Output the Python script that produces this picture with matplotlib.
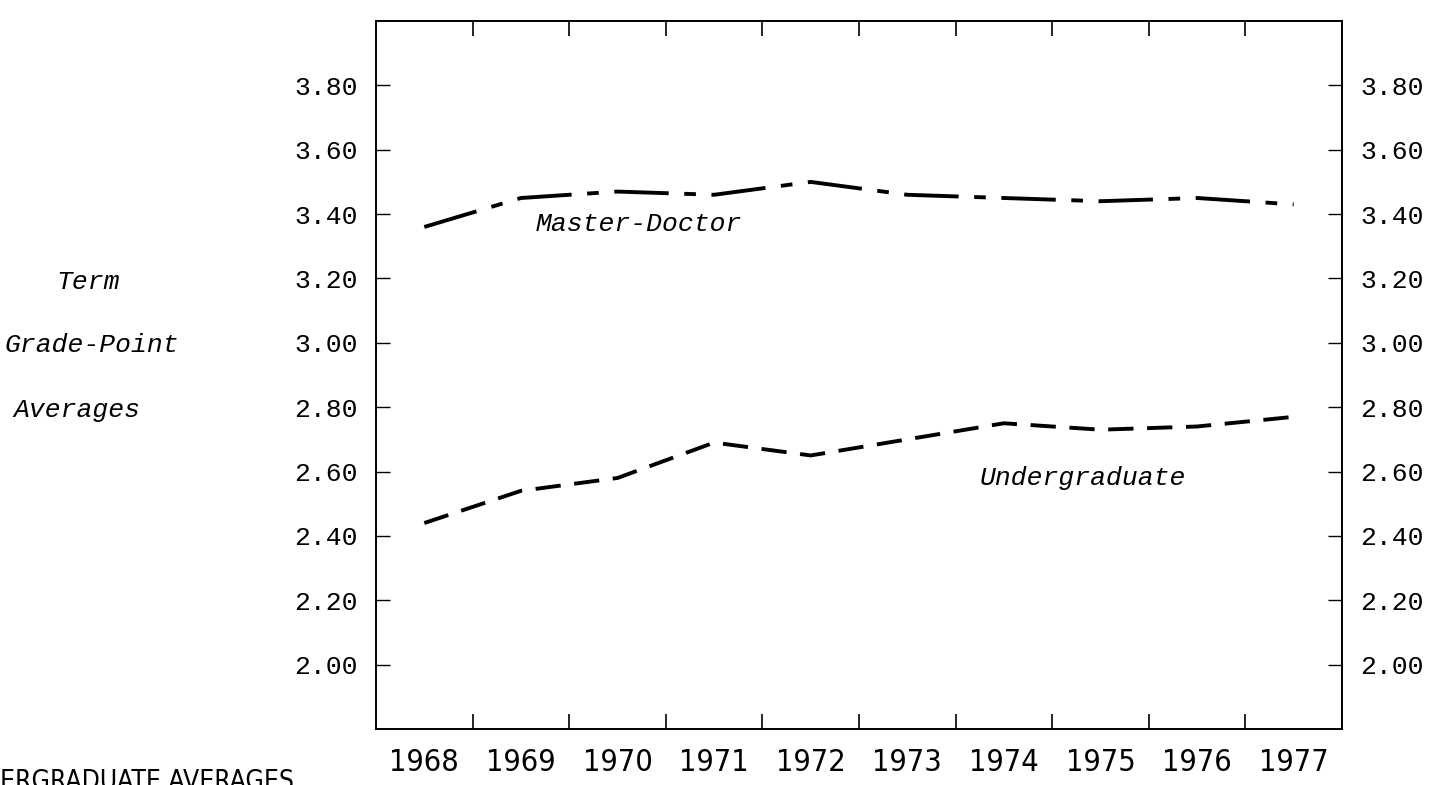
import numpy as np
import matplotlib.pyplot as plt
from matplotlib.ticker import FixedLocator

# Term grade-point averages
YEARS = [1968, 1969, 1970, 1971, 1972, 1973, 1974, 1975, 1976, 1977]
MASTER_DOCTOR = [3.36, 3.45, 3.47, 3.46, 3.50, 3.46, 3.45, 3.44, 3.45, 3.43]
UNDERGRADUATE = [2.44, 2.54, 2.58, 2.69, 2.65, 2.70, 2.75, 2.73, 2.74, 2.77]
Y_TICKS = [2.00, 2.20, 2.40, 2.60, 2.80, 3.00, 3.20, 3.40, 3.60, 3.80]

MONO = 'Liberation Mono'
NARROW = 'DejaVu Sans'

W, H = 1452, 785


def main():
    fig = plt.figure(figsize=(W / 100, H / 100), dpi=100)
    ax = fig.add_axes([376 / W, 1 - 729 / H, (1342 - 376) / W, (729 - 21) / H])

    md, = ax.plot(YEARS, MASTER_DOCTOR, color='black', lw=2.8,
                  solid_capstyle='butt')
    md.set_dashes((14, 4, 3, 4))
    ug, = ax.plot(YEARS, UNDERGRADUATE, color='black', lw=2.8,
                  solid_capstyle='butt')
    ug.set_dashes((6.5, 3.5))

    ax.set_xlim(1967.5, 1977.5)
    ax.set_ylim(1.80, 4.00)

    # year labels centred, tick marks sit between the years
    ax.xaxis.set_major_locator(FixedLocator(YEARS))
    ax.xaxis.set_minor_locator(FixedLocator([y + 0.5 for y in YEARS[:-1]]))
    ax.set_xticklabels([str(y) for y in YEARS], family=NARROW,
                       stretch='condensed', fontsize=22)
    ax.tick_params(axis='x', which='major', length=0, pad=14)
    ax.tick_params(axis='x', which='minor', direction='in', length=11,
                   width=1.2, top=True, bottom=True)

    ax.set_yticks(Y_TICKS)
    ax.set_yticklabels(['%.2f' % v for v in Y_TICKS], family=MONO, fontsize=19)
    ax.tick_params(axis='y', direction='in', length=10, width=1.0,
                   left=True, right=True, labelleft=True, labelright=True,
                   pad=13)

    for sp in ax.spines.values():
        sp.set_linewidth(1.4)

    ax.text(1969.15, 3.37, 'Master-Doctor', family=MONO, style='italic',
            fontsize=19, ha='left', va='center')
    ax.text(1973.75, 2.58, 'Undergraduate', family=MONO, style='italic',
            fontsize=19, ha='left', va='center')

    fig.text(88 / W, 1 - 282 / H, 'Term', family=MONO, style='italic',
             fontsize=19, ha='center', va='center')
    fig.text(92 / W, 1 - 345 / H, 'Grade-Point', family=MONO,
             style='italic', fontsize=19, ha='center', va='center')
    fig.text(77 / W, 1 - 410 / H, 'Averages', family=MONO,
             style='italic', fontsize=19, ha='center', va='center')

    # caption of the page, cut off by the scan
    fig.text(0.0, 1 - 769 / H, 'ERGRADUATE AVERAGES', family=NARROW,
             stretch='condensed', fontsize=19, ha='left', va='top')

    fig.savefig('out.png', dpi=100)


if __name__ == "__main__":
    main()
